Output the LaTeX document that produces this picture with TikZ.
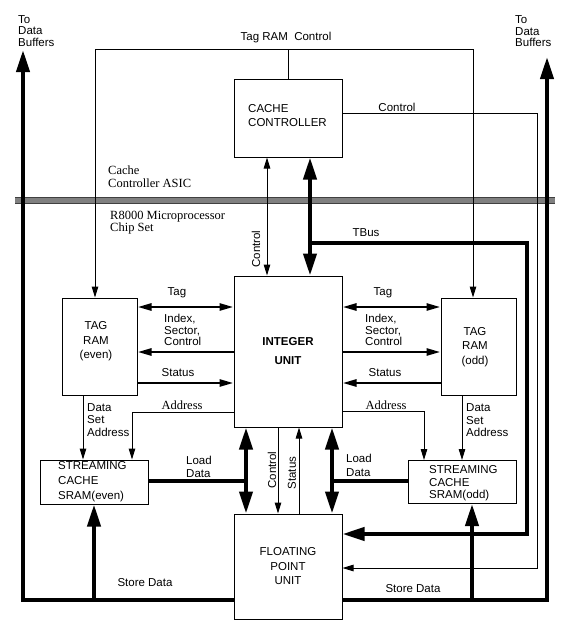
\documentclass[tikz,border=0pt]{standalone}
\usepackage{fontspec}
\newfontfamily\sfa{Liberation Sans}
\newfontfamily\rma{Liberation Serif}
\usetikzlibrary{arrows.meta}
\tikzset{
  tipS/.tip={Triangle[length=11pt,width=6.5pt]},
  tipM/.tip={Triangle[length=14pt,width=7pt]},
  tipL/.tip={Triangle[length=22pt,width=13pt]},
  box/.style={draw, line width=1pt, inner sep=0pt},
  sans/.style={inner sep=0pt, font={\sfa\fontsize{11.5}{11.5}\selectfont}},
  serif/.style={inner sep=0pt, font={\rma\fontsize{12.5}{12.5}\selectfont}},
  thinln/.style={line width=1pt},
  medln/.style={line width=2.6pt},
  bigln/.style={line width=4pt},
}
\begin{document}
\begin{tikzpicture}[x=1pt,y=-1pt]
\useasboundingbox (0,0) rectangle (570,629);
% separator band
\fill[black!50] (15,197) rectangle (555,203);
\draw[black!75, line width=0.6pt] (15,197) -- (555,197) (15,203) -- (555,203);

% boxes
\node[box, minimum width=108pt, minimum height=78pt] (cc) at (288,118) {};
\node[box, minimum width=108pt, minimum height=151pt] (iu) at (288,351.5) {};
\node[box, minimum width=108pt, minimum height=105pt] (fpu) at (288,566.5) {};
\node[box, minimum width=75pt, minimum height=97pt] (tre) at (99.5,346.5) {};
\node[box, minimum width=75pt, minimum height=97pt] (tro) at (478.5,346.5) {};
\node[box, minimum width=108pt, minimum height=44pt] (sre) at (94,482) {};
\node[box, minimum width=108pt, minimum height=43pt] (sro) at (462,482) {};

% box texts
\node[sans, anchor=west, align=left, font={\sfa\fontsize{11.5}{14}\selectfont}] (cct) at (248,116) {CACHE\\CONTROLLER};
\node[sans, align=center, font={\sfa\bfseries\fontsize{11.5}{19}\selectfont}] (iut) at (288,351.5) {INTEGER\\UNIT};
\node[sans, align=center, font={\sfa\fontsize{11.5}{14.5}\selectfont}] (fput) at (288,566.5) {FLOATING\\POINT\\UNIT};
\node[sans, align=center, font={\sfa\fontsize{11.5}{14.5}\selectfont}] (tret) at (96,341.5) {TAG\\RAM\\(even)};
\node[sans, align=center, font={\sfa\fontsize{11.5}{14.5}\selectfont}] (trot) at (475,347) {TAG\\RAM\\(odd)};
\node[sans, anchor=west, align=left, font={\sfa\fontsize{11.5}{15}\selectfont}] (sret) at (58,482) {STREAMING\\CACHE\\SRAM(even)};
\node[sans, anchor=west, align=left, font={\sfa\fontsize{11.5}{12.5}\selectfont}] (srot) at (429,483.5) {STREAMING\\CACHE\\SRAM(odd)};

% Tag RAM control
\coordinate (trc) at (288,49);
\draw[thinln] (cc.north) -- (trc);
\draw[thinln, -tipS] (trc) -| (tre.north -| 95,0);
\draw[thinln, -tipS] (trc) -| (tro.north -| 473,0);
\node[sans] (trcl) at (286,38) {Tag RAM\ \ Control};

% Cache controller control to FPU
\coordinate (crc) at (537,568);
\draw[thinln, -tipS] (cc.east |- 0,113) -| (crc) -- (fpu.east |- crc);
\node[sans] (crcl) at (397,107) {Control};

% CC - IU control
\draw[thinln, tipS-tipS] (cc.south -| 267,0) -- (iu.north -| 267,0);
\node[sans, rotate=90] (ccil) at (256,249) {Control};

% CC - IU TBus
\draw[bigln, tipL-tipL] (cc.south -| 310,0) -- (iu.north -| 310,0);
\coordinate (tb1) at (310,243);
\coordinate (tb2) at (527,534);
\draw[bigln, -tipL] (tb1) -| (tb2) -- (fpu.east |- tb2);
\node[sans] (tbl) at (366,233) {TBus};

% To data buffers
\coordinate (dbl) at (23,50);
\coordinate (dbr) at (547,57);
\coordinate (sdl) at (94,600);
\coordinate (sdr) at (472,600);
\draw[bigln, -tipL] (fpu.west |- 0,600) -| (dbl);
\draw[bigln, -tipL] (fpu.east |- 0,600) -| (dbr);
\node[sans, anchor=west, align=left] (dbll) at (18,31) {To\\Data\\Buffers};
\node[sans, anchor=west, align=left] (dbrl) at (515,31.5) {To\\Data\\Buffers};

% store data
\draw[bigln, -tipL] (sdl) -- (sre.south);
\draw[bigln, -tipL] (sdr) -- (sro.south -| sdr);
\node[sans] (sdll) at (145,583) {Store Data};
\node[sans] (sdrl) at (413,589) {Store Data};

% Tag / Index / Status left
\draw[medln, tipM-tipM] (tre.east |- 0,307) -- (iu.west |- 0,307);
\draw[medln, -tipM] (iu.west |- 0,352) -- (tre.east |- 0,352);
\draw[medln, -tipM] (tre.east |- 0,383) -- (iu.west |- 0,383);
\node[sans] (tagl) at (177,293) {Tag};
\node[sans, anchor=west, align=left] (idxl) at (164,330) {Index,\\Sector,\\Control};
\node[sans] (stl) at (178,373) {Status};

% Tag / Index / Status right
\draw[medln, tipM-tipM] (iu.east |- 0,307) -- (tro.west |- 0,307);
\draw[medln, -tipM] (iu.east |- 0,352) -- (tro.west |- 0,352);
\draw[medln, -tipM] (tro.west |- 0,383) -- (iu.east |- 0,383);
\node[sans] (tagr) at (383,293) {Tag};
\node[sans, anchor=west, align=left] (idxr) at (365,330) {Index,\\Sector,\\Control};
\node[sans] (str) at (385,373) {Status};

% Address
\draw[thinln, -tipS] (iu.west |- 0,412) -| (sre.north -| 132,0);
\draw[thinln, -tipS] (iu.east |- 0,411) -| (sro.north -| 424,0);
\node[serif] (adl) at (182,405) {Address};
\node[serif] (adr) at (386,405) {Address};

% Data set address
\draw[thinln, -tipS] (tre.south -| 83,0) -- (sre.north -| 83,0);
\draw[thinln, -tipS] (tro.south -| 462,0) -- (sro.north -| 462,0);
\node[sans, anchor=west, align=left, font={\sfa\fontsize{11.5}{12.5}\selectfont}] (dsl) at (87,420) {Data\\Set\\Address};
\node[sans, anchor=west, align=left, font={\sfa\fontsize{11.5}{12.5}\selectfont}] (dsr) at (466,420.5) {Data\\Set\\Address};

% IU - FPU
\draw[bigln, tipL-tipL] (iu.south -| 246,0) -- (fpu.north -| 246,0);
\draw[bigln, tipL-tipL] (iu.south -| 332,0) -- (fpu.north -| 332,0);
\draw[bigln] (sre.east |- 0,481) -- (246,481);
\draw[bigln] (sro.west |- 0,481) -- (332,481);
\node[sans, anchor=west, align=left, font={\sfa\fontsize{11.5}{13}\selectfont}] (ldl) at (186,466.5) {Load\\Data};
\node[sans, anchor=west, align=left, font={\sfa\fontsize{11.5}{14}\selectfont}] (ldr) at (346,465) {Load\\Data};
\draw[thinln, -tipS] (iu.south -| 278,0) -- (fpu.north -| 278,0);
\draw[thinln, -tipS] (fpu.north -| 299,0) -- (iu.south -| 299,0);
\node[sans, rotate=90] (ifc) at (272,470) {Control};
\node[sans, rotate=90] (ifs) at (292,473) {Status};

% chip labels
\node[serif, anchor=west, align=left, font={\rma\fontsize{12.5}{13}\selectfont}] (asic) at (108,176.5) {Cache\\Controller ASIC};
\node[serif, anchor=west, align=left, font={\rma\fontsize{12.5}{11.5}\selectfont}] (r8k) at (110,222.5) {R8000 Microprocessor\\Chip Set};
\end{tikzpicture}
\end{document}
